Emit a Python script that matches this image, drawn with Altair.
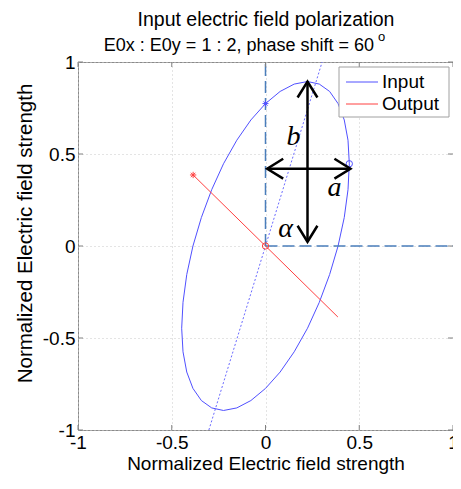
import altair as alt
import pandas as pd

# ---- data ----
ell_x = [0.447, 0.440, 0.420, 0.387, 0.342, 0.287, 0.224, 0.153, 0.078, 0.0, -0.078, -0.153,
         -0.224, -0.287, -0.342, -0.387, -0.420, -0.440, -0.447, -0.440, -0.420, -0.387, -0.342,
         -0.287, -0.224, -0.153, -0.078, 0.0, 0.078, 0.153, 0.224, 0.287, 0.342, 0.387, 0.420,
         0.440, 0.447]
ell_y = [0.447, 0.306, 0.155, 0.0, -0.155, -0.306, -0.447, -0.575, -0.685, -0.774, -0.840, -0.880,
         -0.894, -0.880, -0.840, -0.774, -0.685, -0.575, -0.447, -0.306, -0.155, 0.0, 0.155,
         0.306, 0.447, 0.575, 0.685, 0.774, 0.840, 0.880, 0.894, 0.880, 0.840, 0.774, 0.685,
         0.575, 0.447]
out_x = [-0.386, 0.386]
out_y = [0.386, -0.386]
major_x = [-0.302, 0.302]
major_y = [-1.0, 1.0]
dash_x = [0.0, 0.0, 0.0, 1.0]
dash_y = [0.0, 1.0, 0.0, 0.0]
dash_g = ["v", "v", "h", "h"]
arrow_x1 = [0.224, 0.009]
arrow_y1 = [0.023, 0.42]
arrow_x2 = [0.224, 0.453]
arrow_y2 = [0.894, 0.42]
head_x = [0.224, 0.224, 0.009, 0.453]
head_y = [0.894, 0.023, 0.42, 0.42]
head_dir = ["up", "down", "left", "right"]
lab_text = ["b", "a", "α"]
lab_x = [0.149, 0.368, 0.107]
lab_y = [0.551, 0.272, 0.050]
in_mark_x = [0.447]
in_mark_y = [0.447]
in_star_x = [0.0]
in_star_y = [0.774]
out_circ_x = [0.0]
out_circ_y = [0.0]
out_star_x = [-0.386]
out_star_y = [0.386]
tick_vals = [-1, -0.5, 0, 0.5, 1]
title1 = "Input electric field polarization"
title2 = "E0x : E0y = 1 : 2, phase shift = 60"
title_sup = "o"
legend_labels = ["Input", "Output"]
axis_title = "Normalized Electric field strength"

W, H = 375, 368
FONT = "Liberation Sans"
BLUE = "#5050ff"
RED = "#ff4040"
DASH = "#4a7ebb"

xs = alt.Scale(domain=[-1, 1], nice=False, zero=False)
ys = alt.Scale(domain=[-1, 1], nice=False, zero=False)

LBL = "'' + datum.value"
xaxis = alt.Axis(values=tick_vals, title=axis_title, grid=True, ticks=False, domain=False,
                 labelFontSize=19, labelPadding=3, labelFlush=False, labelColor="black",
                 labelExpr=LBL,
                 titleFontSize=19, titleFontWeight="normal", titleColor="black",
                 titleBaseline="alphabetic", titleY=39,
                 gridDash=[1, 3], gridColor="#c8c8c8", labelFont=FONT, titleFont=FONT)
yaxis = alt.Axis(values=tick_vals, title=axis_title, grid=True, ticks=False, domain=False,
                 labelFontSize=19, labelPadding=3, labelFlush=False, labelColor="black",
                 labelExpr=LBL,
                 titleFontSize=20.5, titleFontWeight="normal", titleColor="black",
                 titleBaseline="alphabetic", titleX=-47, titleY=171, titleAngle=270,
                 gridDash=[1, 3], gridColor="#c8c8c8", labelFont=FONT, titleFont=FONT)


def X(f="x"):
    return alt.X(f"{f}:Q", scale=xs, axis=xaxis)


def Y(f="y"):
    return alt.Y(f"{f}:Q", scale=ys, axis=yaxis)


ell_df = pd.DataFrame({"x": ell_x, "y": ell_y, "i": list(range(len(ell_x)))})
ellipse = alt.Chart(ell_df).mark_line(color=BLUE, strokeWidth=1).encode(
    x=X(), y=Y(), order="i:Q")

major = alt.Chart(pd.DataFrame({"x": major_x, "y": major_y})).mark_line(
    color="#6a6aff", strokeWidth=1, strokeDash=[2, 2]).encode(x=X(), y=Y())

output = alt.Chart(pd.DataFrame({"x": out_x, "y": out_y})).mark_line(
    color=RED, strokeWidth=1).encode(x=X(), y=Y())

dashed = alt.Chart(pd.DataFrame({"x": dash_x, "y": dash_y, "g": dash_g})).mark_line(
    color=DASH, strokeWidth=1.5, strokeDash=[12, 5]).encode(x=X(), y=Y(), detail="g:N")

arrows = alt.Chart(pd.DataFrame({"x": arrow_x1, "y": arrow_y1, "x2": arrow_x2, "y2": arrow_y2})
                   ).mark_rule(color="black", strokeWidth=2.5).encode(
    x=X(), y=Y(), x2="x2:Q", y2="y2:Q")

heads = alt.Chart(pd.DataFrame({"x": head_x, "y": head_y, "d": head_dir})).mark_point(
    filled=False, color="black", strokeWidth=2.5, size=1024, opacity=1, strokeJoin="miter").encode(
    x=X(), y=Y(),
    shape=alt.Shape("d:N", legend=None, scale=alt.Scale(
        domain=["up", "down", "left", "right"],
        range=["M-0.62,1L0,0L0.62,1", "M-0.62,-1L0,0L0.62,-1",
               "M1,-0.62L0,0L1,0.62", "M-1,-0.62L0,0L-1,0.62"])))

labels = alt.Chart(pd.DataFrame({"x": lab_x, "y": lab_y, "t": lab_text})).mark_text(
    font="Liberation Serif", fontStyle="italic", fontSize=28, align="center",
    baseline="alphabetic", color="black").encode(x=X(), y=Y(), text="t:N")

STAR = "M-1,0L1,0M0,-1L0,1M-0.7,-0.7L0.7,0.7M-0.7,0.7L0.7,-0.7"
in_circle = alt.Chart(pd.DataFrame({"x": in_mark_x, "y": in_mark_y})).mark_point(
    shape="circle", filled=False, color=BLUE, size=40, strokeWidth=1, opacity=1).encode(x=X(), y=Y())
in_star = alt.Chart(pd.DataFrame({"x": in_star_x, "y": in_star_y})).mark_point(
    shape=STAR, filled=False, color=BLUE, size=36, strokeWidth=1, opacity=1).encode(x=X(), y=Y())
out_circle = alt.Chart(pd.DataFrame({"x": out_circ_x, "y": out_circ_y})).mark_point(
    shape="circle", filled=False, color=RED, size=40, strokeWidth=1, opacity=1).encode(x=X(), y=Y())
out_star = alt.Chart(pd.DataFrame({"x": out_star_x, "y": out_star_y})).mark_point(
    shape=STAR, filled=False, color=RED, size=40, strokeWidth=1, opacity=1).encode(x=X(), y=Y())

# inward tick marks on all four sides
tdf = pd.DataFrame({"v": tick_vals})
tick_col = "#808080"
tb = alt.Chart(tdf).mark_rule(color=tick_col, strokeWidth=1).encode(
    x=X("v"), y=alt.value(H), y2=alt.value(H - 5))
tt = alt.Chart(tdf).mark_rule(color=tick_col, strokeWidth=1).encode(
    x=X("v"), y=alt.value(0), y2=alt.value(5))
tl = alt.Chart(tdf).mark_rule(color=tick_col, strokeWidth=1).encode(
    y=Y("v"), x=alt.value(0), x2=alt.value(5))
tr = alt.Chart(tdf).mark_rule(color=tick_col, strokeWidth=1).encode(
    y=Y("v"), x=alt.value(W), x2=alt.value(W - 5))

# legend (drawn by hand, MATLAB style)
one = pd.DataFrame({"k": [0]})
leg_box = alt.Chart(one).mark_rect(fill="white", stroke="#a0a0a0", strokeWidth=1).encode(
    x=alt.value(261), x2=alt.value(371), y=alt.value(5), y2=alt.value(55))
leg_layers = []
for lab, col, py in zip(legend_labels, [BLUE, RED], [20, 42]):
    d = pd.DataFrame({"t": [lab]})
    leg_layers.append(alt.Chart(d).mark_rule(strokeWidth=1, color=col).encode(
        x=alt.value(268), x2=alt.value(300), y=alt.value(py)))
    leg_layers.append(alt.Chart(d).mark_text(align="left", baseline="middle", fontSize=19,
                                             font=FONT, color="black").encode(
        x=alt.value(304), y=alt.value(py), text="t:N"))

# title lines
t1 = alt.Chart(pd.DataFrame({"t": [title1]})).mark_text(
    align="center", baseline="alphabetic", fontSize=19.5, font=FONT, color="black").encode(
    x=alt.value(188), y=alt.value(-36), text="t:N")
t2 = alt.Chart(pd.DataFrame({"t": [title2]})).mark_text(
    align="right", baseline="alphabetic", fontSize=18, font=FONT, color="black").encode(
    x=alt.value(296), y=alt.value(-11), text="t:N")
t3 = alt.Chart(pd.DataFrame({"t": [title_sup]})).mark_text(
    align="left", baseline="alphabetic", fontSize=13, font=FONT, color="black").encode(
    x=alt.value(300), y=alt.value(-21), text="t:N")

chart = alt.layer(
    ellipse, major, dashed, output, in_circle, in_star, out_circle, out_star,
    arrows, heads, labels, tb, tt, tl, tr, leg_box, *leg_layers, t1, t2, t3
).properties(
    width=W, height=H,
    autosize=alt.AutoSizeParams(type="none"),
    padding={"left": 70, "top": 54, "right": 0, "bottom": 44},
    background="white",
).configure_view(stroke="#8a8a8a", strokeWidth=1)

chart.save("out.html", embed_options={"renderer": "svg", "actions": False})
